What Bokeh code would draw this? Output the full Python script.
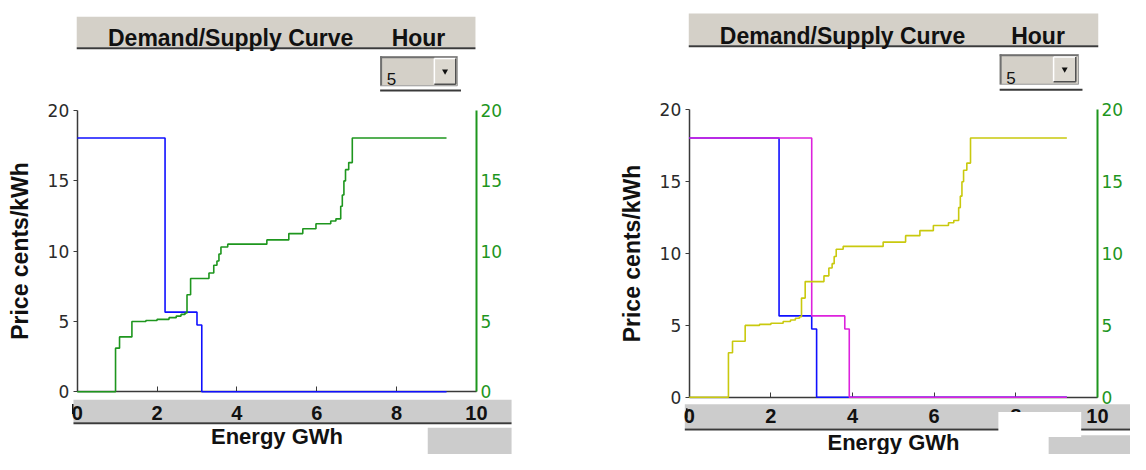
from bokeh.plotting import figure
from bokeh.models import Range1d, LinearAxis, FixedTicker
from bokeh.layouts import row
from bokeh.core.properties import value
from bokeh.embed import file_html
from bokeh.resources import INLINE

# ---------------- data ----------------
supply_energy = [0, 0.96, 1.06, 1.37, 1.72, 2.0, 2.3, 2.48, 2.6, 2.7, 2.75, 2.84,
                 3.3, 3.42, 3.5, 3.55, 3.6, 3.77, 4.75, 5.3, 5.65, 5.98, 6.35,
                 6.48, 6.6, 6.64, 6.68, 6.72, 6.8, 6.89, 9.25]
supply_price = [0, 3.1, 3.9, 5.0, 5.07, 5.15, 5.27, 5.38, 5.5, 5.6, 6.9, 8.05,
                8.45, 9.0, 9.3, 9.8, 10.3, 10.5, 10.8, 11.25, 11.6, 11.95, 12.15,
                12.3, 13.2, 14.0, 15.0, 15.8, 16.3, 18.05, 18.05]
demand_a_energy = [0, 2.2, 3.0, 3.12, 9.25]
demand_a_price = [18.05, 5.66, 4.75, 0, 0]
demand_b_energy = [0, 3.0, 3.81, 3.92, 9.25]
demand_b_price = [18.05, 5.66, 4.75, 0, 0]
energy_ticks = [0, 2, 4, 6, 8, 10]
price_ticks = [0, 5, 10, 15, 20]
title_text = "Demand/Supply Curve"
hour_text = "Hour"
hour_value = "5"
x_label = "Energy GWh"
y_label = "Price cents/kWh"

# ---------------- styles ----------------
BLUE = "#1010ff"
GREEN = "#1e961e"
MAGENTA = "#dd22dd"
YELLOW = "#c9c90e"
PANEL_GREY = "#d4d0c8"
BAND_GREY = "#cccccc"
DARK = "#3a3a3a"
FONT_NAME = "Liberation Sans"
FONT = value(FONT_NAME)

# canvas size that fits the window (1146x470 minus 8px margins)
TOTAL_W, TOTAL_H = 1130, 454
REF_W, REF_H = 1146, 470
SX, SY = TOTAL_W / REF_W, TOTAL_H / REF_H


class PxMap:
    """Maps reference-layout pixel positions of GUI chrome into a panel's data space."""
    def __init__(self, left, right, x0px, x10px, y0px, y20px):
        self.left, self.right = left, right
        self.width = int(round((right - left) * SX))
        self.height = TOTAL_H
        self.kx = (x10px - x0px) / 10.0
        self.ky = (y0px - y20px) / 20.0
        self.x0px, self.y0px = x0px, y0px

    def x(self, X):
        return (X - self.x0px) / self.kx

    def y(self, Y):
        return (self.y0px - Y) / self.ky


def chrome(p, m, d):
    def quad(x1, y1, x2, y2, color, level="glyph"):
        r = p.quad(left=[m.x(x1)], right=[m.x(x2)], top=[m.y(y1)], bottom=[m.y(y2)],
                   fill_color=color, line_color=None)
        r.level = level
        return r

    def seg(x1, y1, x2, y2, color, w=2, level="glyph"):
        r = p.segment(x0=[m.x(x1)], y0=[m.y(y1)], x1=[m.x(x2)], y1=[m.y(y2)],
                      line_color=color, line_width=w)
        r.level = level
        return r

    # header bar
    hx1, hy1, hx2, hy2 = d["head"]
    quad(hx1, hy1, hx2, hy2, PANEL_GREY)
    seg(hx1, d["head_line"], hx2, d["head_line"], DARK, 2)
    p.text(x=[m.x(d["title_x"]), m.x(d["hour_x"])], y=[m.y(d["base"])] * 2,
           text=[title_text, hour_text], text_font=FONT, text_font_size="23px",
           text_font_style="bold", text_color="#111111", text_baseline="alphabetic",
           text_align="left")
    # dropdown
    dx1, dy1, dx2, dy2 = d["dd"]
    quad(dx1, dy1, dx2, dy2, PANEL_GREY)
    seg(dx1, dy1 + 1, dx2, dy1 + 1, "#707070", 2)
    seg(dx1 + 1, dy1, dx1 + 1, dy2, "#707070", 2)
    seg(dx1, dy2, dx2, dy2, "#9a9a9a", 1)
    seg(dx2, dy1, dx2, dy2, "#9a9a9a", 1)
    bx1, by1, bx2, by2 = d["btn"]
    quad(bx1, by1, bx2, by2, "#dcd8d0")
    seg(bx1, by1, bx2, by1, "#ffffff", 1.5)
    seg(bx1, by1, bx1, by2, "#ffffff", 1.5)
    seg(bx1, by2, bx2, by2, "#505050", 1.5)
    seg(bx2, by1, bx2, by2, "#505050", 1.5)
    p.scatter(x=[m.x((bx1 + bx2) / 2)], y=[m.y((by1 + by2) / 2)], marker="inverted_triangle",
              size=6, fill_color="#111111", line_color=None)
    p.text(x=[m.x(d["dd_text_x"])], y=[m.y(d["dd_base"])], text=[hour_value],
           text_font=FONT, text_font_size="17px", text_color="#111111",
           text_baseline="alphabetic", text_align="left")
    seg(dx1, d["dd_line"], d["dd_line_x2"], d["dd_line"], DARK, 2)
    # bottom band
    gx1, gy1, gx2, gy2 = d["band"]
    quad(gx1, gy1, gx2, gy2, BAND_GREY)
    seg(gx1, d["band_line"], gx2, d["band_line"], DARK, 2)
    tx, ty1, ty2 = d["tick_mark"]
    seg(tx, ty1, tx, ty2, "#111111", 1.5)
    rx1, ry1, rx2, ry2 = d["grey_rect"]
    quad(rx1, ry1, rx2, ry2, BAND_GREY)
    if "white" in d:
        wx1, wy1, wx2, wy2 = d["white"]
        quad(wx1, wy1, wx2, wy2, "#ffffff", level="overlay")


def make_panel(m, d, curves):
    p = figure(width=m.width, height=m.height,
               x_range=Range1d(m.x(m.left), m.x(m.right)),
               y_range=Range1d(m.y(REF_H), m.y(0)),
               x_axis_type=None, y_axis_type=None, min_border=0,
               toolbar_location=None, output_backend="svg",
               outline_line_color=None, background_fill_color="white",
               border_fill_color="white")
    chrome(p, m, d)

    yax = LinearAxis(fixed_location=0, bounds=(0, 20), ticker=FixedTicker(ticks=price_ticks),
                     axis_line_color=DARK, axis_line_width=1.5,
                     major_tick_line_color=DARK, major_tick_in=0, major_tick_out=4,
                     minor_tick_line_color=None, major_label_standoff=4,
                     major_label_text_font="DejaVu Sans",
                     major_label_text_font_size="17px", major_label_text_color="#2a2a2a",
                     axis_label=y_label, axis_label_text_font=FONT_NAME,
                     axis_label_text_font_size="23px", axis_label_text_font_style="bold",
                     axis_label_text_color="#111111", axis_label_standoff=12)
    p.add_layout(yax, "left")

    ry = LinearAxis(fixed_location=10, bounds=(0, 20), ticker=FixedTicker(ticks=price_ticks),
                    axis_line_color=GREEN, axis_line_width=2,
                    major_tick_in=0, major_tick_out=0, minor_tick_line_color=None,
                    major_label_standoff=4, major_label_text_font="DejaVu Sans",
                    major_label_text_font_size="17px", major_label_text_color=GREEN)
    p.add_layout(ry, "right")

    xax = LinearAxis(fixed_location=0, bounds=(0, 10), ticker=FixedTicker(ticks=energy_ticks),
                     axis_line_color=DARK, axis_line_width=1.5,
                     major_tick_line_color=DARK, major_tick_in=5, major_tick_out=0,
                     minor_tick_line_color=None, major_label_standoff=d["tick_standoff"],
                     major_label_text_font=FONT_NAME, major_label_text_font_size="20px",
                     major_label_text_font_style="bold", major_label_text_color="#111111",
                     axis_label=x_label, axis_label_text_font=FONT_NAME,
                     axis_label_text_font_size="22px", axis_label_text_font_style="bold",
                     axis_label_text_color="#111111", axis_label_standoff=d["label_standoff"])
    p.add_layout(xax, "below")

    for xs, ys, color in curves:
        r = p.step(x=xs, y=ys, mode="after", line_color=color, line_width=1.6)
        r.level = "annotation"
    return p


left_map = PxMap(0, 573, 77.8, 482.7, 405.0, 114.0)
right_map = PxMap(573, 1146, 698.5, 1112.5, 410.7, 113.3)

left_chrome = dict(head=(77.3, 16.7, 481.7, 48.5), head_line=49.5, title_x=109, hour_x=396.7,
                   base=39.3, dd=(385, 57.7, 463.3, 88.3), btn=(440, 60, 461.7, 86.7),
                   dd_text_x=391.7, dd_base=81.5, dd_line=93.3, dd_line_x2=467,
                   band=(74, 413.3, 518.3, 436.7), band_line=437.7,
                   tick_mark=(73.3, 417.7, 428), grey_rect=(433.3, 442.3, 518.3, 470),
                   tick_standoff=14, label_standoff=1)
right_chrome = dict(head=(698, 13.5, 1113.3, 46.3), head_line=47.3, title_x=729.5, hour_x=1025,
                    base=36.7, dd=(1013.3, 55.7, 1093.3, 86.7), btn=(1068, 58.5, 1090.5, 84),
                    dd_text_x=1020, dd_base=80, dd_line=92.3, dd_line_x2=1097.3,
                    band=(694, 418, 1146, 443), band_line=444,
                    tick_mark=(696, 422, 432), grey_rect=(1063, 450, 1146, 470),
                    white=(1012, 426, 1096, 452),
                    tick_standoff=12, label_standoff=3)

p_left = make_panel(left_map, left_chrome,
                    [(demand_a_energy, demand_a_price, BLUE),
                     (supply_energy, supply_price, GREEN)])
p_right = make_panel(right_map, right_chrome,
                     [(demand_a_energy, demand_a_price, BLUE),
                      (demand_b_energy, demand_b_price, MAGENTA),
                      (supply_energy, supply_price, YELLOW)])

layout = row(p_left, p_right)
open("out.html", "w").write(file_html(layout, INLINE))
